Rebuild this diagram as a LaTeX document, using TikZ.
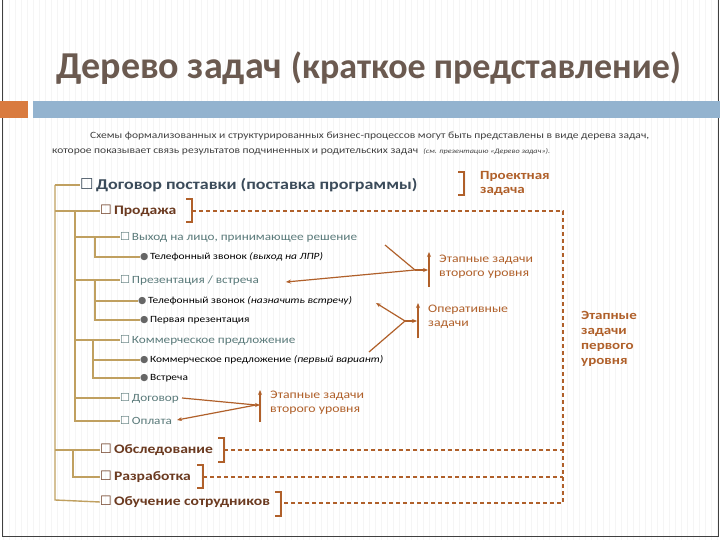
\documentclass[tikz,border=0pt]{standalone}
\usepackage{fontspec}
\setmainfont[FakeStretch=1.2]{Carlito}
\newfontfamily\titlefont{Carlito}
\newfontfamily\sym{DejaVu Sans}
\usetikzlibrary{arrows.meta}
\definecolor{titlec}{HTML}{6B5A50}
\definecolor{orng}{HTML}{D97B3F}
\definecolor{blu}{HTML}{93B3CF}
\definecolor{tree}{HTML}{C0A060}
\definecolor{arr}{HTML}{B0602A}
\definecolor{lvl0}{HTML}{3B4B5A}
\definecolor{lvl1}{HTML}{6B3A20}
\definecolor{lvl2}{HTML}{5A7A7A}
\tikzset{
  tl/.style={draw=tree,line width=1.4pt},
  dsh/.style={draw=arr,line width=1.1pt,dash pattern=on 4pt off 3pt},
  brk/.style={draw=arr,line width=1.2pt},
  ar/.style={draw=arr,line width=1.2pt},
  ah/.style={ar,-{Stealth[length=5pt,width=4pt]}},
  it/.style={anchor=west,inner sep=0pt,font=\fontsize{10}{11}\selectfont},
  top/.style={it,text=lvl0,font=\fontsize{15}{16}\selectfont\bfseries},
  l1/.style={it,text=lvl1,font=\fontsize{13}{14}\selectfont\bfseries},
  l2/.style={it,text=lvl2,font=\fontsize{11}{12}\selectfont},
  bl/.style={it,text=black,font=\fontsize{9.5}{10}\selectfont},
  lab/.style={anchor=north west,inner sep=0pt,text=arr,align=left,font=\fontsize{11.5}{13.5}\selectfont},
}
\newcommand{\bx}{{\sym\char"2610}\,}
\newcommand{\bul}{{\color{gray!80!black}\sym\char"25CF}\,}
\begin{document}
\begin{tikzpicture}[x=1pt,y=-1pt]
\useasboundingbox (0,0) rectangle (720,540);
\fill[white] (0,0) rectangle (720,540);
\foreach \i in {0,6,...,714} \draw[black!4,line width=0.6pt] (\i+3,0) -- (\i+3,540);
\draw[black!75,line width=1pt] (2,-2) -- (2,536) -- (718,536) -- (718,-2);
\node[anchor=west,inner sep=0pt,text=titlec] (title) at (56,68)
  {\titlefont\fontsize{38}{42}\selectfont\bfseries Дерево задач \fontsize{36}{40}\selectfont(краткое представление)};
\fill[orng] (0,101) rectangle (28,118);
\fill[blu] (33,101) rectangle (720,118);
\node[anchor=west,inner sep=0pt,text=black!75,font=\fontsize{9.6}{10}\selectfont] (p1) at (90,136)
  {Схемы формализованных и структурированных бизнес-процессов могут быть представлены в виде дерева задач,};
\node[anchor=west,inner sep=0pt,text=black!75,font=\fontsize{9.6}{10}\selectfont] (p2) at (52,152)
  {которое показывает связь результатов подчиненных и родительских задач \ {\fontsize{6.8}{8}\selectfont\itshape (см. презентацию «Дерево задач»).}};
% items
\node[top] (a) at (80,185) {\bx Договор поставки (поставка программы)};
\node[l1] (b) at (100,211) {\bx Продажа};
\node[l2] (c1) at (120,237) {\bx Выход на лицо, принимающее решение};
\node[bl] (c1a) at (140,257) {\bul Телефонный звонок \textit{(выход на ЛПР)}};
\node[l2] (c2) at (120,280) {\bx Презентация / встреча};
\node[bl] (c2a) at (138,301) {\bul Телефонный звонок \textit{(назначить встречу)}};
\node[bl] (c2b) at (140,320) {\bul Первая презентация};
\node[l2] (c3) at (120,340) {\bx Коммерческое предложение};
\node[bl] (c3a) at (140,360) {\bul Коммерческое предложение \textit{(первый вариант)}};
\node[bl] (c3b) at (140,378) {\bul Встреча};
\node[l2] (c4) at (120,398) {\bx Договор};
\node[l2] (c5) at (120,421) {\bx Оплата};
\node[l1] (d) at (100,450) {\bx Обследование};
\node[l1] (e) at (100,477) {\bx Разработка};
\node[l1] (f) at (100,502) {\bx Обучение сотрудников};
% tree lines
\draw[tl] (55,185) -- (55,500) -- (f.west);
\draw[tl] (55,185) -- (a.west);
\draw[tl] (55,211) -- (b.west);
\draw[tl] (55,450) -- (d.west);
\draw[tl] (73,450) -- (73,477) -- (e.west);
\draw[tl] (75,211) -- (75,421) -- (c5.west);
\foreach \n in {c1,c2,c3,c4} \draw[tl] (75,0 |- \n.west) -- (\n.west);
\draw[tl] (95,237) -- (95,257) -- (c1a.west);
\draw[tl] (95,280) -- (95,320) -- (c2b.west);
\draw[tl] (95,301) -- (c2a.west);
\draw[tl] (93,340) -- (93,378) -- (c3b.west);
\draw[tl] (93,360) -- (c3a.west);
% brackets and dashed
\draw[brk] (458,172) -- (464,172) -- (464,195) -- (458,195);
\node[lab,font=\fontsize{12.5}{14}\selectfont\bfseries] (pz) at (480,171) {Проектная\\задача};
\coordinate (bb) at (192,211);
\draw[brk] (186,199) -- (192,199) -- (192,222) -- (186,222);
\draw[brk] (218,438) -- (224,438) -- (224,462) -- (218,462);
\draw[brk] (197,465) -- (203,465) -- (203,488) -- (197,488);
\draw[brk] (275,492) -- (281,492) -- (281,516) -- (275,516);
\draw[dsh] (bb) -- (563,211) -- (563,503) -- (281,503);
\draw[dsh] (224,450) -- (563,450);
\draw[dsh] (203,477) -- (563,477);
\node[lab,font=\fontsize{12.5}{15}\selectfont\bfseries] (l1) at (581,311) {Этапные\\задачи\\первого\\уровня};
% arrows group 1
\coordinate (g1) at (415,270);
\draw[ah] (429,287) -- (429,252);
\draw[ah] (g1) -- (428,270);
\draw[ar] (385,245) -- (g1);
\draw[ah] (g1) -- (286,282);
\node[lab] (t1) at (439,255) {Этапные задачи\\второго уровня};
% group 2
\coordinate (g2) at (405,321);
\draw[ah] (418,338) -- (418,303);
\draw[ah] (g2) -- (417,321);
\draw[ah] (g2) -- (376,303);
\draw[ar] (g2) -- (369,352);
\node[lab] (t2) at (428,305) {Оперативные\\задачи};
% group 3
\coordinate (g3) at (256,405);
\draw[ah] (260,422) -- (260,390);
\draw[ah] (g3) -- (260,405);
\draw[ar] (182,398) -- (g3);
\draw[ah] (g3) -- (177,420);
\node[lab] (t3) at (270,391) {Этапные задачи\\второго уровня};
\end{tikzpicture}
\end{document}
